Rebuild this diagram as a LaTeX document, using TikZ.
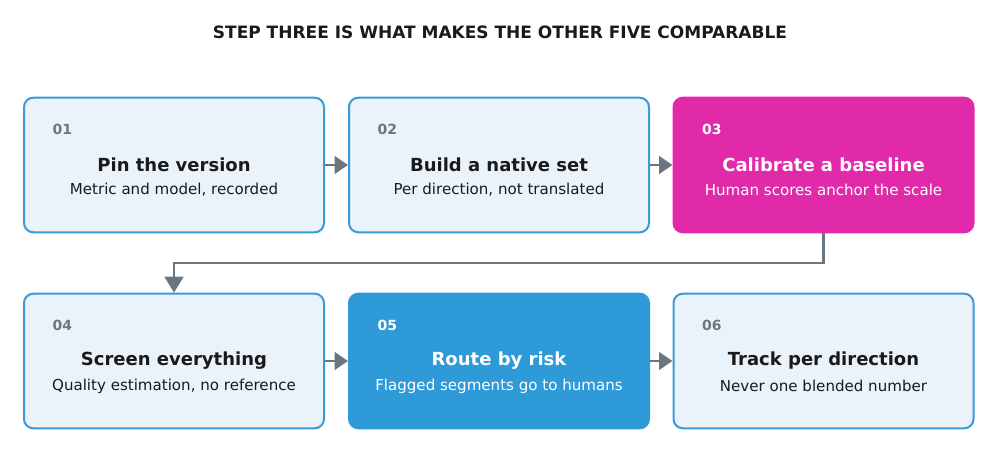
\documentclass[tikz,border=0pt]{standalone}
\usepackage{fontspec}
\setmainfont{DejaVu Sans}
\usetikzlibrary{arrows.meta}
\definecolor{boxfill}{HTML}{EAF3FA}
\definecolor{boxline}{HTML}{3A9AD9}
\definecolor{mag}{HTML}{E02AAA}
\definecolor{blu}{HTML}{2E9AD8}
\definecolor{arr}{HTML}{6B7780}
\definecolor{num}{HTML}{6B7780}
\definecolor{txt}{HTML}{1A1A1A}
\begin{document}
\begin{tikzpicture}[x=0.75pt,y=-0.75pt,
 box/.style={draw=boxline,line width=1.5pt,fill=boxfill,rounded corners=7pt,minimum width=225pt,minimum height=101pt,inner sep=0pt},
 hot/.style={box,draw=#1,fill=#1},
 numl/.style={font=\bfseries\fontsize{10.5}{12}\selectfont,text=num,anchor=west},
 head/.style={font=\bfseries\fontsize{13.5}{16}\selectfont,text=txt},
 sub/.style={font=\fontsize{11.3}{13}\selectfont,text=txt},
 con/.style={draw=arr,line width=2.2pt,-{Triangle[length=10pt,width=13pt]}}]
\useasboundingbox (0,0) rectangle (1000,470);
\fill[white] (0,0) rectangle (1000,470);
\node[font=\bfseries\fontsize{12.75}{15}\selectfont,text=txt] (title) at (500,32) {STEP THREE IS WHAT MAKES THE OTHER FIVE COMPARABLE};
% boxes
\node[box] (b1) at (174,165) {};
\node[box] (b2) at (499,165) {};
\node[hot=mag] (b3) at (823.5,165) {};
\node[box] (b4) at (174,361) {};
\node[hot=blu] (b5) at (499,361) {};
\node[box] (b6) at (823.5,361) {};
% texts
\foreach \b/\x/\y/\n/\h/\s/\c/\nc in {
 1/174/165/01/Pin the version/{Metric and model, recorded}/txt/num,
 2/499/165/02/Build a native set/{Per direction, not translated}/txt/num,
 3/823.5/165/03/Calibrate a baseline/Human scores anchor the scale/white/white,
 4/174/361/04/Screen everything/{Quality estimation, no reference}/txt/num,
 5/499/361/05/Route by risk/Flagged segments go to humans/white/white,
 6/823.5/361/06/Track per direction/Never one blended number/txt/num}{
 \node[numl,text=\nc] (n\b) at (\x-126,\y-36) {\n};
 \node[head,text=\c] (h\b) at (\x,\y) {\h};
 \node[sub,text=\c] (s\b) at (\x,\y+25) {\s};
}
\draw[con] (b1.east) -- (b2.west);
\draw[con] (b2.east) -- (b3.west);
\draw[con] (b4.east) -- (b5.west);
\draw[con] (b5.east) -- (b6.west);
\coordinate (t1) at (823.5,263);
\coordinate (t2) at (174,263);
\draw[con,-{Triangle[length=12pt,width=14pt]}] (b3.south) -- (t1) -- (t2) -- (b4.north);
\end{tikzpicture}
\end{document}
